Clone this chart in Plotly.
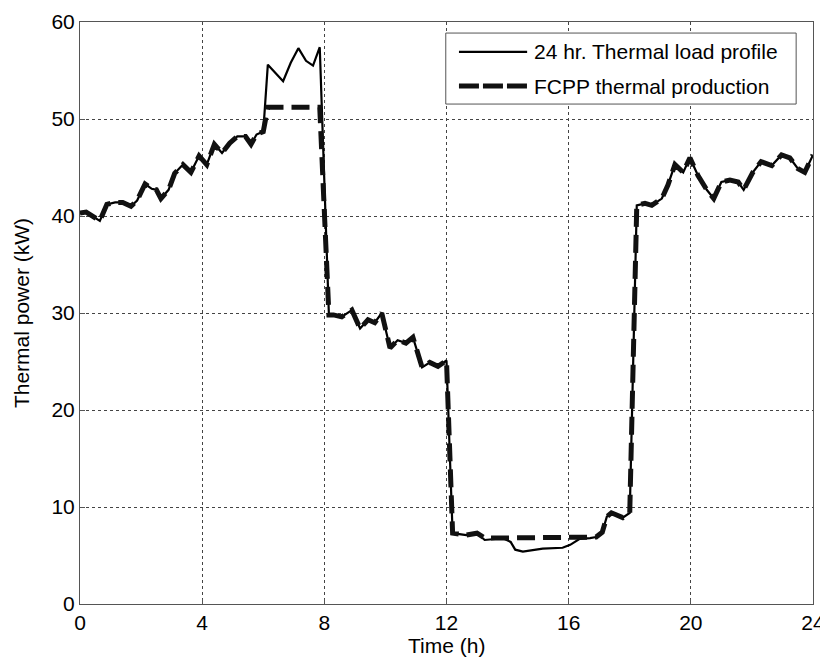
import plotly.graph_objects as go

# time (h) and thermal power (kW)
hours = [0.0, 0.2, 0.65, 0.88, 1.15, 1.4, 1.67, 1.87, 2.13, 2.35, 2.5, 2.65, 2.9, 3.1,
         3.37, 3.63, 3.9, 4.15, 4.4, 4.65, 4.9, 5.15, 5.42, 5.6, 5.78, 6.0, 6.15, 6.65,
         6.9, 7.15, 7.4, 7.63, 7.85, 8.15, 8.3, 8.57, 8.9, 9.17, 9.43, 9.65, 9.88, 10.15,
         10.4, 10.67, 10.9, 11.2, 11.45, 11.72, 12.0, 12.2, 12.65, 13.0, 13.25, 13.6, 13.9,
         14.1, 14.25, 14.5, 15.15, 15.8, 16.05, 16.35, 16.7, 16.9, 17.1, 17.25, 17.4, 17.58,
         17.77, 18.0, 18.23, 18.5, 18.72, 19.05, 19.25, 19.48, 19.75, 19.97, 20.23, 20.52,
         20.75, 21.0, 21.28, 21.55, 21.73, 22.03, 22.3, 22.65, 22.97, 23.24, 23.5, 23.73, 24.0]

load = [40.3, 40.4, 39.5, 41.2, 41.4, 41.4, 41.0, 41.6, 43.3, 42.8, 42.7, 41.8, 42.7, 44.4,
        45.3, 44.5, 46.2, 45.3, 47.4, 46.5, 47.5, 48.2, 48.2, 47.4, 48.4, 48.7, 55.6, 53.9,
        55.8, 57.3, 56.0, 55.5, 57.4, 29.8, 29.8, 29.6, 30.3, 28.4, 29.3, 29.0, 30.0, 26.4,
        27.2, 26.9, 27.5, 24.4, 24.9, 24.5, 25.1, 7.3, 7.1, 7.3, 6.6, 6.7, 6.7,
        6.4, 5.6, 5.4, 5.7, 5.8, 6.1, 6.7, 6.8, 6.9, 7.4, 9.0, 9.4, 9.2,
        8.9, 9.4, 41.1, 41.3, 41.1, 41.8, 43.2, 45.3, 44.5, 46.0, 44.2, 42.7,
        41.8, 43.5, 43.7, 43.5, 42.7, 44.5, 45.6, 45.2, 46.3, 46.0, 44.9, 44.5, 46.3]

fcpp = [40.3, 40.4, 39.5, 41.2, 41.4, 41.4, 41.0, 41.6, 43.3, 42.8, 42.7, 41.8, 42.7, 44.4,
        45.3, 44.5, 46.2, 45.3, 47.4, 46.5, 47.5, 48.2, 48.2, 47.4, 48.4, 48.7, 51.2, 51.2,
        51.2, 51.2, 51.2, 51.2, 51.2, 29.8, 29.8, 29.6, 30.3, 28.4, 29.3, 29.0, 30.0, 26.4,
        27.2, 26.9, 27.5, 24.4, 24.9, 24.5, 25.1, 7.3, 7.1, 7.3, 6.8, 6.8, 6.8,
        6.8, 6.8, 6.8, 6.8, 6.8, 6.8, 6.8, 6.8, 6.9, 7.4, 9.0, 9.4, 9.2,
        8.9, 9.4, 41.1, 41.3, 41.1, 41.8, 43.2, 45.3, 44.5, 46.0, 44.2, 42.7,
        41.8, 43.5, 43.7, 43.5, 42.7, 44.5, 45.6, 45.2, 46.3, 46.0, 44.9, 44.5, 46.3]

names = ["24 hr. Thermal load profile", "FCPP thermal production"]

font = "Liberation Sans, Arial, sans-serif"
fsize = 21
load_line = dict(color='black', width=2.2)
fcpp_line = dict(color='#111111', width=5, dash='18px,8px')

fig = go.Figure()

fig.add_trace(go.Scatter(x=hours, y=load, mode='lines', name=names[0],
                         line=load_line, showlegend=False))
fig.add_trace(go.Scatter(x=hours, y=fcpp, mode='lines', name=names[1],
                         line=fcpp_line, showlegend=False))

axis_style = dict(
    showline=True, mirror=True, linecolor='#555555', linewidth=1,
    ticks='inside', ticklen=5, tickcolor='#555555',
    showgrid=True, gridcolor='#444444', gridwidth=1, griddash='3px,3px',
    zeroline=False, automargin=False,
    tickfont=dict(family=font, size=fsize, color='black'),
)

fig.update_xaxes(range=[0, 24], tickvals=[0, 4, 8, 12, 16, 20, 24], **axis_style)
fig.update_yaxes(range=[0, 60], tickvals=[0, 10, 20, 30, 40, 50, 60],
                 title=dict(text="Thermal power (kW)", font=dict(family=font, size=fsize, color='black'),
                            standoff=16),
                 **axis_style)

# x title as an annotation, kept inside the page
fig.add_annotation(xref='paper', yref='paper', x=0.5, y=-0.071, text="Time (h)",
                   xanchor='center', yanchor='middle', showarrow=False,
                   font=dict(family=font, size=fsize, color='black'))

# MATLAB-style legend box (long line samples), drawn in paper coordinates
fig.add_shape(type='rect', xref='paper', yref='paper', x0=0.499, x1=0.977, y0=0.859, y1=0.981,
              line=dict(color='#555555', width=1), fillcolor='white', layer='above')
fig.add_shape(type='line', xref='paper', yref='paper', x0=0.517, x1=0.610, y0=0.9485, y1=0.9485,
              line=load_line, layer='above')
fig.add_shape(type='line', xref='paper', yref='paper', x0=0.517, x1=0.610, y0=0.890, y1=0.890,
              line=dict(color='#111111', width=5, dash='20px,4px'), layer='above')
for yy, txt in zip([0.9485, 0.890], names):
    fig.add_annotation(xref='paper', yref='paper', x=0.617, y=yy, text=txt,
                       xanchor='left', yanchor='middle', showarrow=False,
                       font=dict(family=font, size=fsize, color='black'))

# page body adds an 8px offset, so the figure is sized to fit inside the window
fig.update_layout(
    width=818, height=649,
    margin=dict(l=72, r=13, t=14, b=53),
    paper_bgcolor='white', plot_bgcolor='white',
    font=dict(family=font, color='black'),
    showlegend=False,
)

fig.write_html("out.html")
